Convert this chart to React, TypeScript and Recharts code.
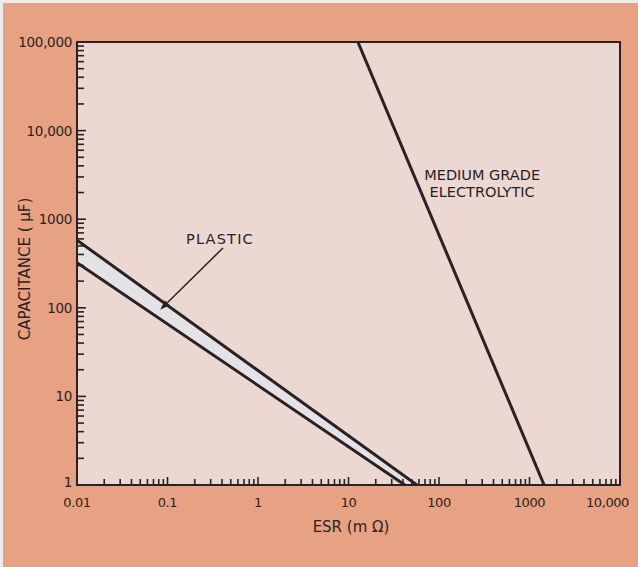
import React from "react";
import {
  ComposedChart,
  Area,
  Line,
  XAxis,
  YAxis,
  ReferenceArea,
  ReferenceLine,
  ReferenceDot,
} from "recharts";

// decades and their printed labels
const xDecades = [0.01, 0.1, 1, 10, 100, 1000, 10000];
const xLabels = ["0.01", "0.1", "1", "10", "100", "1000", "10,000"];
const yDecades = [1, 10, 100, 1000, 10000, 100000];
const yLabels = ["1", "10", "100", "1000", "10,000", "100,000"];
const minorSteps = [2, 3, 4, 5, 6, 7, 8, 9];

// plastic band edges (ESR mΩ, capacitance µF)
const plasticUpperEsr = [0.01, 57];
const plasticUpperCap = [580, 1];
const plasticLowerEsr = [0.01, 42];
const plasticLowerCap = [323, 1];

// medium grade electrolytic
const electroEsr = [12.7, 1450];
const electroCap = [100000, 1];

const INK = "#2a2222";
const SALMON = "#e6a283";
const PLOT_BG = "#ecd8d2";
const BAND = "#e3e2e6";
const FONT = "'DejaVu Sans', sans-serif";

const buildTicks = (decades: number[]) => {
  const out: number[] = [];
  decades.forEach((d, i) => {
    out.push(d);
    if (i < decades.length - 1) minorSteps.forEach((m) => out.push(d * m));
  });
  return out;
};

const xTicks = buildTicks(xDecades);
const yTicks = buildTicks(yDecades);

// one table, rows sorted by ESR, each series picks its own key
const rows: { x: number; upper?: number; lower?: number; elec?: number }[] = [];
plasticUpperEsr.forEach((x, i) => rows.push({ x, upper: plasticUpperCap[i] }));
plasticLowerEsr.forEach((x, i) => rows.push({ x, lower: plasticLowerCap[i] }));
electroEsr.forEach((x, i) => rows.push({ x, elec: electroCap[i] }));
const merged: typeof rows = [];
rows
  .sort((a, b) => a.x - b.x)
  .forEach((r) => {
    const last = merged[merged.length - 1];
    if (last && last.x === r.x) Object.assign(last, r);
    else merged.push({ ...r });
  });

const XTick = (props: any) => {
  const { x, y, payload } = props;
  const idx = xDecades.indexOf(payload.value);
  const isLast = idx === xDecades.length - 1;
  return (
    <g>
      <line x1={x} x2={x} y1={y} y2={y - (idx >= 0 ? 8 : 6)} stroke={INK} strokeWidth={1.6} />
      {idx >= 0 && (
        <text
          x={isLast ? x + 9 : x}
          y={y + 17}
          textAnchor={isLast ? "end" : "middle"}
          dominantBaseline="central"
          fill={INK}
          fontSize={13}
          letterSpacing={-0.4}
          fontFamily={FONT}
        >
          {xLabels[idx]}
        </text>
      )}
    </g>
  );
};

const YTick = (props: any) => {
  const { x, y, payload } = props;
  const idx = yDecades.indexOf(payload.value);
  return (
    <g>
      <line x1={x} x2={x + (idx >= 0 ? 9 : 7)} y1={y} y2={y} stroke={INK} strokeWidth={1.6} />
      {idx >= 0 && (
        <text
          x={x - 5}
          y={idx === 0 ? y - 3 : y}
          textAnchor="end"
          dominantBaseline="central"
          fill={INK}
          fontSize={13.5}
          letterSpacing={-0.3}
          fontFamily={FONT}
        >
          {yLabels[idx]}
        </text>
      )}
    </g>
  );
};

const Arrow = (props: any) => {
  const { x1, y1, x2, y2 } = props;
  const dx = x2 - x1;
  const dy = y2 - y1;
  const len = Math.sqrt(dx * dx + dy * dy) || 1;
  const ux = dx / len;
  const uy = dy / len;
  const bx = x2 - ux * 10;
  const by = y2 - uy * 10;
  const pts = `${x2},${y2} ${bx - uy * 3.5},${by + ux * 3.5} ${bx + uy * 3.5},${by - ux * 3.5}`;
  return (
    <g>
      <line x1={x1} y1={y1} x2={bx} y2={by} stroke={INK} strokeWidth={1.5} />
      <polygon points={pts} fill={INK} />
    </g>
  );
};

const note = (lines: string[], spacing = 0, lineGap = 17) => (p: any) => (
  <text x={p.cx} y={p.cy} textAnchor="middle" fill={INK} fontSize={14.5} letterSpacing={spacing} fontFamily={FONT}>
    {lines.map((t, i) => (
      <tspan key={t} x={p.cx} dy={i === 0 ? 5 : lineGap}>
        {t}
      </tspan>
    ))}
  </text>
);

export default function App() {
  return (
    <div style={{ position: "absolute", left: 0, top: 0, width: 638, height: 567, background: "#e8ecee" }}>
      <div style={{ position: "absolute", left: 3, top: 3, right: 0, bottom: 0, background: SALMON }} />
      <div style={{ position: "absolute", left: 0, top: 0 }}>
        <ComposedChart width={638} height={567} data={merged} margin={{ top: 42, right: 18, left: 17, bottom: 52 }}>
          <ReferenceArea x1={0.01} x2={10000} y1={1} y2={100000} fill={PLOT_BG} fillOpacity={1} stroke="none" />
          <Area
            type="linear"
            dataKey="upper"
            connectNulls
            baseValue={1}
            stroke={INK}
            strokeWidth={3}
            fill={BAND}
            fillOpacity={1}
            dot={false}
            activeDot={false}
            isAnimationActive={false}
          />
          <Area
            type="linear"
            dataKey="lower"
            connectNulls
            baseValue={1}
            stroke={INK}
            strokeWidth={3}
            fill={PLOT_BG}
            fillOpacity={1}
            dot={false}
            activeDot={false}
            isAnimationActive={false}
          />
          <Line
            type="linear"
            dataKey="elec"
            connectNulls
            stroke={INK}
            strokeWidth={3}
            dot={false}
            activeDot={false}
            isAnimationActive={false}
          />
          <XAxis
            dataKey="x"
            type="number"
            scale="log"
            domain={[0.01, 10000]}
            allowDataOverflow
            ticks={xTicks}
            interval={0}
            height={30}
            axisLine={false}
            tickLine={false}
            tickSize={0}
            tickMargin={0}
            tick={<XTick />}
            label={{
              content: () => (
                <text x={351} y={527} textAnchor="middle" dominantBaseline="central" fill={INK} fontSize={15} fontFamily={FONT}>
                  ESR (m Ω)
                </text>
              ),
            }}
          />
          <YAxis
            type="number"
            scale="log"
            domain={[1, 100000]}
            allowDataOverflow
            ticks={yTicks}
            interval={0}
            width={60}
            axisLine={false}
            tickLine={false}
            tickSize={0}
            tickMargin={0}
            tick={<YTick />}
            label={{
              content: () => (
                <text
                  x={25}
                  y={269}
                  transform="rotate(-90 25 269)"
                  textAnchor="middle"
                  dominantBaseline="central"
                  fill={INK}
                  fontSize={15}
                  fontFamily={FONT}
                >
                  CAPACITANCE ( µF)
                </text>
              ),
            }}
          />
          <ReferenceLine
            segment={[
              { x: 0.41, y: 473 },
              { x: 0.083, y: 95 },
            ]}
            shape={<Arrow />}
            ifOverflow="visible"
          />
          <ReferenceDot x={0.38} y={598} r={0} shape={note(["PLASTIC"], 1.2)} ifOverflow="visible" />
          <ReferenceDot x={300} y={3155} r={0} shape={note(["MEDIUM GRADE", "ELECTROLYTIC"])} ifOverflow="visible" />
          <ReferenceArea x1={0.01} x2={10000} y1={1} y2={100000} fill="none" stroke={INK} strokeWidth={2} ifOverflow="visible" />
        </ComposedChart>
      </div>
    </div>
  );
}
